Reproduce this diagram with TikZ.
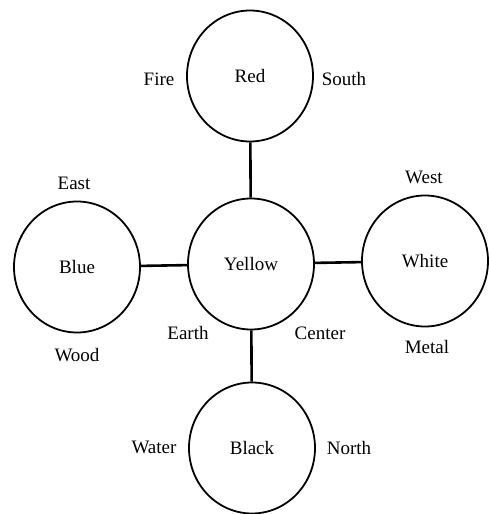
\documentclass[tikz,border=0pt]{standalone}
\usepackage{fontspec}
\setmainfont{Liberation Serif}
\newfontfamily\tmsfont{Liberation Serif}
\usetikzlibrary{shapes.geometric}
\begin{document}
\begin{tikzpicture}[x=1pt,y=-1pt,
  elem/.style={draw,ellipse,line width=1.8pt,minimum width=126pt,minimum height=131pt,inner sep=0pt,font=\tmsfont\fontsize{19}{22}\selectfont},
  lab/.style={font=\tmsfont\fontsize{19}{22}\selectfont,inner sep=0pt},
  link/.style={line width=2.6pt}]
\useasboundingbox (0,0) rectangle (489,514);
\node[elem] (red) at (250,76) {Red};
\node[elem] (yellow) at (251,264) {Yellow};
\node[elem] (blue) at (77,267) {Blue};
\node[elem] (white) at (425,261) {White};
\node[elem] (black) at (252,448) {Black};
\draw[link] (red) -- (yellow);
\draw[link] (blue) -- (yellow);
\draw[link] (yellow) -- (white);
\draw[link] (yellow) -- (black);
\node[lab] (fire) at (159,79) {Fire};
\node[lab] (south) at (344,79) {South};
\node[lab] (east) at (74,183) {East};
\node[lab] (west) at (424,177) {West};
\node[lab] (wood) at (77,355) {Wood};
\node[lab] (metal) at (427,347) {Metal};
\node[lab] (earth) at (188,333) {Earth};
\node[lab] (center) at (320,333) {Center};
\node[lab] (water) at (154,447) {Water};
\node[lab] (north) at (349,448) {North};
\end{tikzpicture}
\end{document}
